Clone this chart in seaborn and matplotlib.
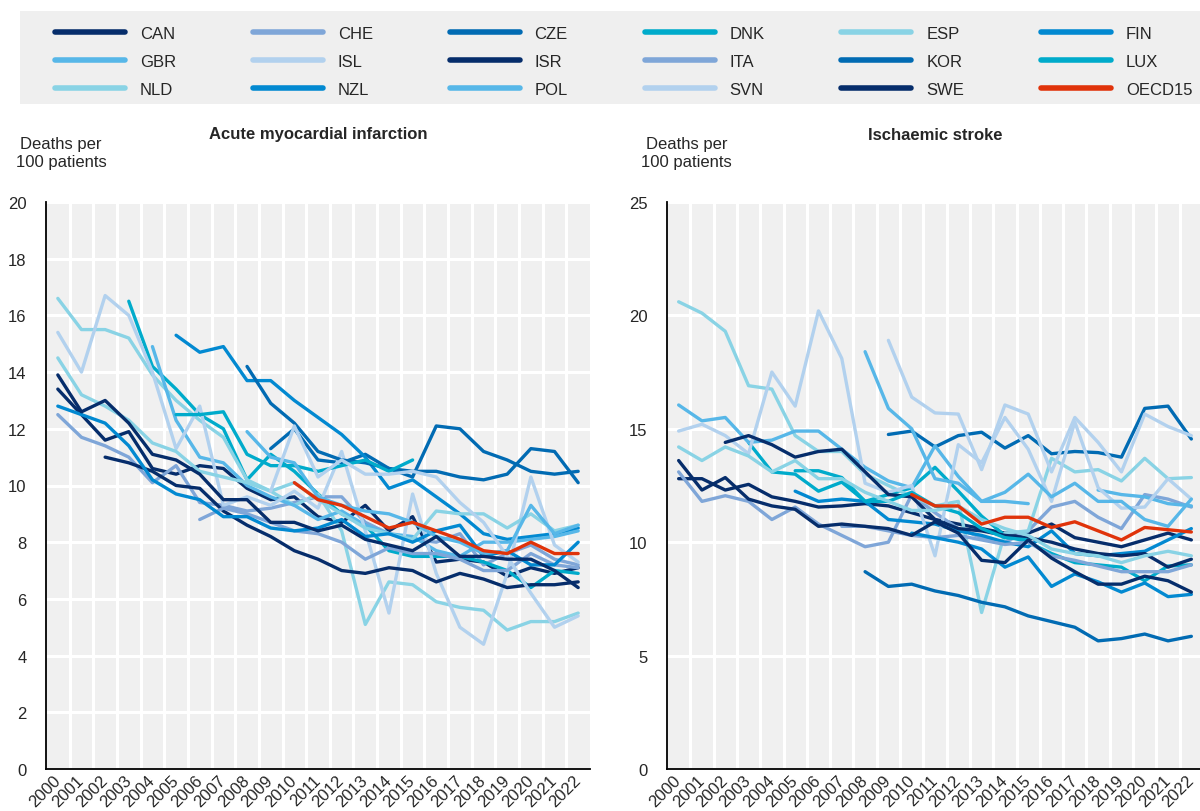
import numpy as np
import pandas as pd
import matplotlib
matplotlib.use("Agg")
import matplotlib.pyplot as plt
from matplotlib import font_manager
from matplotlib.lines import Line2D
from matplotlib.patches import Rectangle
from matplotlib.ticker import MultipleLocator
import seaborn as sns

N = np.nan
years = list(range(2000, 2023))
countries = ["CAN", "CHE", "CZE", "DNK", "ESP", "FIN", "GBR", "ISL", "ISR",
             "ITA", "KOR", "LUX", "NLD", "NZL", "POL", "SVN", "SWE", "OECD15"]

# Acute myocardial infarction (deaths per 100 patients)
ami_CAN = [13.4,12.5,11.6,11.9,10.6,10.4,10.7,10.6,9.9,9.5,9.6,8.9,8.7,9.3,8.4,8.9,7.3,7.4,7.3,6.8,7.1,6.9,7.1]
ami_SWE = [13.9,12.6,13.0,12.2,11.1,10.9,10.4,9.5,9.5,8.7,8.7,8.4,8.6,8.1,7.9,7.7,8.2,7.5,7.5,7.4,7.4,7.0,6.4]
ami_ISR = [N,N,11.0,10.8,10.5,10.0,9.9,9.1,8.6,8.2,7.7,7.4,7.0,6.9,7.1,7.0,6.6,6.9,6.7,6.4,6.5,6.5,6.6]
ami_CHE = [12.5,11.7,11.4,11.0,10.1,10.7,9.4,9.3,9.1,9.2,9.4,9.6,9.6,8.7,8.3,8.1,8.0,8.3,7.2,7.6,7.9,7.4,7.2]
ami_ITA = [N]*6 + [8.8,9.2,9.0,8.7,8.4,8.3,8.0,7.4,7.8,7.6,7.6,7.4,7.0,7.0,7.6,7.2,7.1]
ami_KOR = [N]*8 + [14.2,12.9,12.2,11.2,10.9,10.8,10.6,10.5,10.5,10.3,10.2,10.4,11.3,11.2,10.1]
ami_CZE = [N]*9 + [11.3,12.0,10.9,10.8,11.1,10.6,10.3,12.1,12.0,11.2,10.9,10.5,10.4,10.5]
ami_FIN = [N]*5 + [15.3,14.7,14.9,13.7,13.7,13.0,12.4,11.8,11.0,9.9,10.2,9.6,9.0,8.3,8.1,8.2,8.3,8.5]
ami_NZL = [12.8,12.5,12.2,11.4,10.2,9.7,9.5,8.9,8.9,8.5,8.4,8.5,8.8,8.2,8.3,8.0,8.4,8.6,7.5,7.7,7.2,7.2,8.0]
ami_DNK = [N]*3 + [16.5,14.2,13.4,12.5,12.0,10.2,11.1,10.5,9.7,9.0,8.6,7.7,7.5,7.5,7.5,7.3,7.0,6.4,7.0,6.9]
ami_LUX = [N]*5 + [12.5,12.5,12.6,11.1,10.7,10.7,10.5,10.7,10.9,10.5,10.9] + [N]*7
ami_ESP = [16.6,15.5,15.5,15.2,13.9,13.0,12.3,11.7,10.2,9.8,9.3,9.7,8.4,5.1,6.6,6.5,5.9,5.7,5.6,4.9,5.2,5.2,5.5]
ami_NLD = [14.5,13.2,12.8,12.3,11.5,11.2,10.5,10.3,10.1,9.8,10.1,9.5,9.0,8.5,8.3,8.1,9.1,9.0,9.0,8.5,9.0,8.4,8.6]
ami_GBR = [N]*4 + [14.9,12.3,11.0,10.8,10.0,9.6,9.3,8.8,9.1,8.6,8.3,8.2,7.7,7.5,8.0,8.0,8.1,8.2,8.4]
ami_POL = [N]*8 + [11.9,11.0,10.8,9.6,9.3,9.1,9.0,8.7,8.2,8.0,7.6,7.7,9.3,8.3,8.6]
ami_ISL = [15.4,14.0,16.7,16.0,14.0,11.3,12.8,9.3,9.6,9.3,9.8,9.2,11.2,8.4,5.5,9.7,6.9,5.0,4.4,6.9,10.3,7.9,7.3]
ami_SVN = [N]*9 + [9.8,12.1,10.3,10.9,10.4,10.4,10.5,10.3,9.4,8.7,7.5,6.2,5.0,5.4]
ami_OECD15 = [N]*10 + [10.1,9.5,9.3,8.9,8.5,8.7,8.4,8.1,7.7,7.6,8.0,7.6,7.6]

# Ischaemic stroke (deaths per 100 patients)
isc_CAN = [12.8,12.8,12.3,12.55,12.0,11.8,11.55,11.6,11.7,11.6,11.3,11.0,10.8,10.6,10.4,10.4,10.8,10.2,10.0,9.8,10.1,10.4,10.1]
isc_SWE = [13.6,12.3,12.85,11.9,11.6,11.45,10.7,10.8,10.7,10.6,10.3,10.9,10.4,9.2,9.1,10.1,9.3,8.7,8.15,8.15,8.5,8.3,7.8]
isc_ISR = [N,N,14.4,14.7,14.3,13.75,14.0,14.1,13.1,12.1,12.0,11.0,10.6,10.5,10.3,10.2,10.0,9.7,9.5,9.4,9.5,8.9,9.25]
isc_CHE = [13.1,11.8,12.05,11.8,11.0,11.55,10.8,10.3,9.8,10.0,12.1,11.3,10.6,10.2,10.0,10.5,11.55,11.8,11.1,10.6,12.1,11.9,11.55]
isc_ITA = [N]*7 + [10.7,10.7,10.5,10.3,10.2,10.3,10.1,9.9,10.0,9.4,9.2,8.95,8.7,8.7,8.7,9.0]
isc_CZE = [N]*9 + [14.75,14.9,14.2,14.7,14.85,14.15,14.7,13.9,14.0,13.95,13.75,15.9,16.0,14.55]
isc_KOR = [N]*8 + [8.7,8.05,8.15,7.85,7.65,7.35,7.15,6.75,6.5,6.25,5.65,5.75,5.95,5.65,5.85]
isc_FIN = [N]*5 + [12.25,11.8,11.9,11.8,11.0,10.9,10.8,10.5,10.3,10.0,9.8,10.5,9.5,9.4,9.5,9.6,10.1,10.6]
isc_NZL = [N]*10 + [10.4,10.2,10.0,9.7,8.9,9.35,8.05,8.6,8.25,7.8,8.2,7.6,7.7]
isc_DNK = [N]*3 + [14.4,13.1,13.0,12.25,12.65,11.8,12.1,12.4,13.3,12.25,11.15,10.3,10.0,9.5,9.1,9.0,8.9,8.3,8.95,9.0]
isc_LUX = [N]*5 + [13.15,13.15,12.85,11.8,11.8,12.2,11.6,11.3,10.6,10.2,10.1] + [N]*7
isc_ESP = [20.6,20.1,19.3,16.9,16.75,14.7,14.0,14.0,13.0,12.5,12.0,11.6,11.8,6.9,10.4,10.5,13.7,13.1,13.2,12.7,13.7,12.8,12.85]
isc_NLD = [14.2,13.6,14.2,13.8,13.1,13.6,12.8,12.8,12.2,11.8,11.4,11.4,11.6,11.0,10.6,10.3,9.7,9.5,9.4,9.1,9.4,9.6,9.4]
isc_GBR = [16.05,15.35,15.5,14.4,14.5,14.9,14.9,14.1,13.3,12.7,12.4,14.25,12.9,11.8,11.8,11.7,N,N,12.3,12.1,12.0,11.7,11.6]
isc_POL = [N]*8 + [18.4,15.9,15.0,12.8,12.6,11.8,12.2,13.0,12.0,12.6,11.8,11.8,11.0,10.7,11.9]
isc_ISL = [14.9,15.2,14.7,13.9,17.5,16.0,20.2,18.1,12.6,12.2,12.5,9.4,14.3,13.5,15.5,14.1,11.8,15.3,12.4,11.5,11.55,12.8,11.9]
isc_SVN = [N]*9 + [18.9,16.4,15.7,15.65,13.2,16.05,15.65,13.1,15.5,14.4,13.1,15.65,15.1,14.7]
isc_OECD15 = [N]*10 + [12.1,11.6,11.6,10.8,11.1,11.1,10.65,10.9,10.5,10.1,10.65,10.55,10.45]

g = globals()
ami = {c: g["ami_" + c] for c in countries}
isc = {c: g["isc_" + c] for c in countries}
for d in (ami, isc):
    for c, v in d.items():
        assert len(v) == len(years), c

NAVY, LAV, MID, TEAL, CYAN, BLUE, SKY, PALE = (
    "#062d6b", "#7fa6d8", "#016bb3", "#00abcb", "#89d3e5", "#0289d1", "#57b7e8", "#b2d1ee")
palette = {
    "CAN": NAVY, "CHE": LAV, "CZE": MID, "DNK": TEAL, "ESP": CYAN, "FIN": BLUE,
    "GBR": SKY, "ISL": PALE, "ISR": NAVY, "ITA": LAV, "KOR": MID, "LUX": TEAL,
    "NLD": CYAN, "NZL": BLUE, "POL": SKY, "SVN": PALE, "SWE": NAVY, "OECD15": "#e0330a",
}


def long_frame(d):
    rows = []
    for c in countries:
        seg = 0
        prev_nan = True
        for y, v in zip(years, d[c]):
            if np.isnan(v):
                prev_nan = True
                continue
            if prev_nan:
                seg += 1
                prev_nan = False
            rows.append({"year": y, "value": v, "country": c, "seg": f"{c}_{seg}"})
    return pd.DataFrame(rows)


sns.set_theme(style="white")
names = {f.name for f in font_manager.fontManager.ttflist}
if "Liberation Sans Narrow" in names:
    fam = ["Liberation Sans Narrow", "Liberation Sans", "DejaVu Sans"]
    FS = 14
else:
    fam = ["Liberation Sans", "DejaVu Sans"]
    FS = 12
plt.rcParams["font.family"] = fam
plt.rcParams["font.size"] = FS

W, H = 1200, 812
fig = plt.figure(figsize=(W / 100, H / 100), dpi=100)
fig.patch.set_facecolor("white")

BG = "#f0f0f0"
panels = [
    (ami, [46, 544], 20, 2, "Acute myocardial infarction", 0.028),
    (isc, [667, 536], 25, 5, "Ischaemic stroke", 0.036),
]
for data, (x0, w), ymax, ystep, title, ylx in panels:
    ax = fig.add_axes([x0 / W, (H - 770) / H, w / W, 567 / H])
    ax.set_facecolor(BG)
    df = long_frame(data)
    sns.lineplot(data=df, x="year", y="value", hue="country", units="seg",
                 estimator=None, hue_order=countries, palette=palette,
                 linewidth=2.4, legend=False, sort=True, ax=ax, zorder=3)
    ax.set_xlim(years[0] - 0.5, years[-1] + 0.5)
    ax.set_ylim(0, ymax)
    ax.yaxis.set_major_locator(MultipleLocator(ystep))
    ax.set_xticks(years)
    ax.set_xticklabels([str(y) for y in years], rotation=45, ha="right",
                       va="center", rotation_mode="anchor", fontsize=FS)
    ax.set_xticks([y + 0.5 for y in years[:-1]], minor=True)
    ax.tick_params(axis="x", which="major", length=0, pad=6)
    ax.tick_params(axis="x", which="minor", length=6, width=1.3, color="black", direction="out")
    ax.tick_params(axis="y", which="major", length=6, width=1.3, color="black",
                   direction="out", pad=8, labelsize=FS)
    ax.grid(False)
    ax.grid(True, axis="y", which="major", color="white", linewidth=2.2, zorder=1)
    ax.grid(True, axis="x", which="minor", color="white", linewidth=2.2, zorder=1)
    ax.set_axisbelow(True)
    for s in ["top", "right"]:
        ax.spines[s].set_visible(False)
    for s in ["left", "bottom"]:
        ax.spines[s].set_color("black")
        ax.spines[s].set_linewidth(1.3)
    ax.set_xlabel("")
    ax.set_ylabel("")
    ax.text(0.5, 1 + (203 - 135) / 567, title, transform=ax.transAxes,
            ha="center", va="center", fontweight="bold", fontsize=FS)
    ax.text(ylx, 1 + (203 - 153) / 567, "Deaths per\n100 patients",
            transform=ax.transAxes, ha="center", va="center", fontsize=FS,
            linespacing=1.25)

# legend panel
fig.patches.append(Rectangle((20 / W, 1 - 105 / H), 1180 / W, 93 / H,
                             transform=fig.transFigure, facecolor="#efefef",
                             edgecolor="none", zorder=0))
order = ["CAN", "CHE", "CZE", "DNK", "ESP", "FIN",
         "GBR", "ISL", "ISR", "ITA", "KOR", "LUX",
         "NLD", "NZL", "POL", "SVN", "SWE", "OECD15"]
# matplotlib fills legend column-wise; reorder so rows read as in order
ncol = 6
col_order = [order[r * ncol + c] for c in range(ncol) for r in range(3)]
handles = [Line2D([0], [0], color=palette[c], linewidth=4) for c in col_order]
leg = fig.legend(handles, col_order, ncol=ncol, loc="upper left",
                 bbox_to_anchor=(55 / W, 1 - 27 / H), frameon=False,
                 borderpad=0, borderaxespad=0, handlelength=4.2,
                 handletextpad=0.9, columnspacing=4.6, labelspacing=0.77,
                 fontsize=FS)

fig.savefig("out.png", dpi=100)
